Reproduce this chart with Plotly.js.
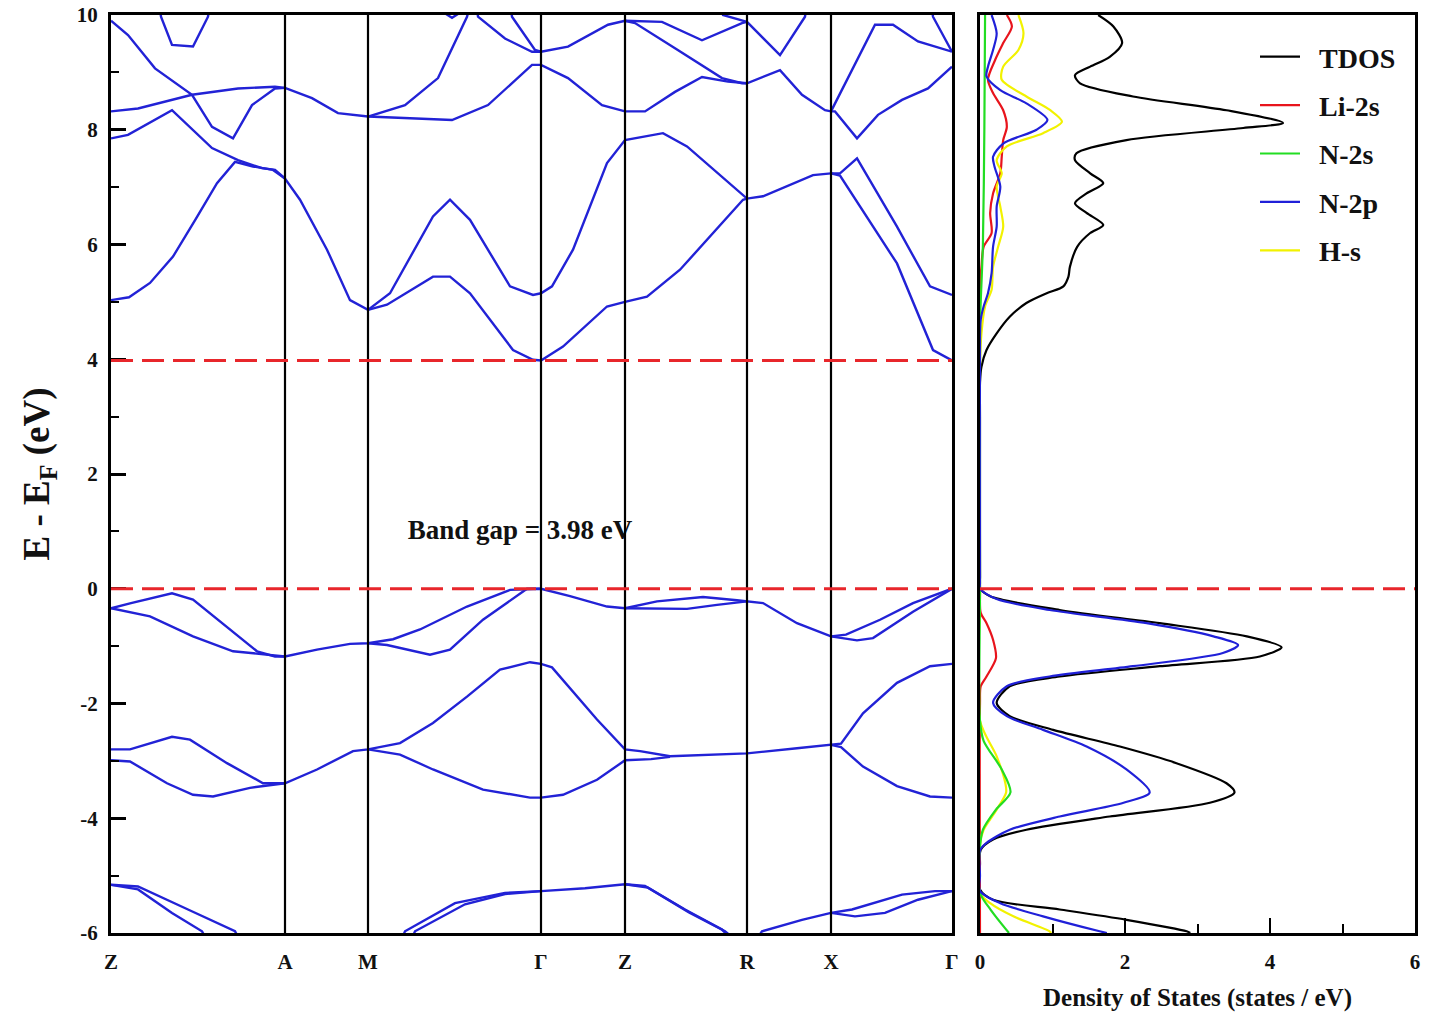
<!DOCTYPE html>
<html>
<head>
<meta charset="utf-8">
<script src="https://cdn.plot.ly/plotly-3.0.1.min.js"></script>
<style>html,body{margin:0;padding:0;background:#fff;}#plot{width:1439px;height:1023px;}</style>
</head>
<body>
<div id="plot"></div>
<script>
// ---------- high-symmetry path ----------
const kPos = [0, 174, 257, 430, 514, 636, 720, 841];
const kLabels = ['Z', 'A', 'M', 'Γ', 'Z', 'R', 'X', 'Γ'];
const eTicks = [-6, -4, -2, 0, 2, 4, 6, 8, 10];
const eTickText = ['-6', '-4', '-2', '0', '2', '4', '6', '8', '10'];
const dosTicks = [0, 2, 4, 6];
const bandGap = 3.98;

// ---------- bands: [k, E] pairs ----------
// valence top group
const vb1 = [[0,-0.34],[20,-0.25],[61,-0.08],[82,-0.19],[146,-1.09],[164,-1.18],[174,-1.18],[206,-1.06],[239,-0.96],[257,-0.95],[282,-0.88],[309,-0.71],[356,-0.31],[399,-0.02],[430,0],[459,-0.13],[496,-0.31],[514,-0.34],[546,-0.22],[592,-0.145],[626,-0.2],[636,-0.22],[652,-0.25],[686,-0.60],[720,-0.83],[746,-0.90],[762,-0.86],[802,-0.40],[841,0]];
const vb2 = [[0,-0.34],[39,-0.48],[82,-0.83],[122,-1.09],[174,-1.18]];
const vb3 = [[257,-0.95],[276,-0.98],[319,-1.15],[339,-1.06],[372,-0.54],[416,0],[430,0]];
const vb4 = [[514,-0.34],[552,-0.35],[576,-0.35],[606,-0.28],[636,-0.22]];
const vb5 = [[720,-0.83],[735,-0.80],[769,-0.54],[802,-0.25],[841,0]];
// valence middle group
const vb6 = [[0,-2.80],[19,-2.80],[61,-2.58],[79,-2.63],[116,-3.04],[152,-3.39],[174,-3.39],[206,-3.15],[242,-2.83],[257,-2.80],[289,-2.69],[322,-2.34],[356,-1.88],[389,-1.41],[419,-1.28],[430,-1.31],[441,-1.37],[452,-1.59],[486,-2.28],[514,-2.80],[529,-2.83],[559,-2.92],[600,-2.90],[636,-2.87],[686,-2.78],[720,-2.72],[730,-2.70],[752,-2.17],[786,-1.64],[819,-1.35],[841,-1.31]];
const vb7 = [[0,-2.99],[19,-3.01],[56,-3.39],[82,-3.59],[102,-3.62],[139,-3.47],[174,-3.39]];
const vb8 = [[257,-2.80],[289,-2.89],[322,-3.15],[372,-3.50],[419,-3.64],[430,-3.64],[452,-3.59],[486,-3.33],[514,-2.99],[540,-2.97],[559,-2.93]];
const vb9 = [[720,-2.72],[730,-2.76],[752,-3.10],[786,-3.44],[819,-3.62],[841,-3.64]];
// valence bottom group
const vb10 = [[0,-5.16],[27,-5.24],[61,-5.65],[91,-5.97],[95,-6.1]];
const vb11 = [[0,-5.16],[27,-5.19],[77,-5.59],[124,-5.97],[128,-6.1]];
const vb12 = [[291,-6.1],[294,-5.97],[344,-5.48],[394,-5.30],[430,-5.27],[474,-5.22],[514,-5.15],[534,-5.18],[574,-5.59],[611,-5.94],[620,-6.1]];
const vb13 = [[301,-6.1],[304,-5.97],[354,-5.50],[394,-5.32],[430,-5.27]];
const vb14 = [[514,-5.15],[537,-5.21],[578,-5.64],[614,-5.97],[623,-6.1]];
const vb15 = [[646,-6.1],[651,-5.97],[691,-5.77],[720,-5.65],[741,-5.59],[791,-5.33],[824,-5.27],[841,-5.27]];
const vb16 = [[720,-5.65],[744,-5.71],[774,-5.65],[807,-5.42],[841,-5.27]];
// conduction bands
const cb1 = [[0,5.03],[18,5.08],[39,5.33],[62,5.79],[85,6.45],[106,7.07],[124,7.44],[142,7.36],[162,7.30],[174,7.15],[189,6.78],[216,5.91],[239,5.03],[257,4.86],[279,5.15],[322,6.49],[339,6.78],[359,6.43],[399,5.27],[422,5.12],[430,5.15],[441,5.27],[462,5.91],[496,7.42],[514,7.82],[552,7.94],[576,7.71],[606,7.25],[636,6.80],[652,6.84],[702,7.21],[720,7.24],[729,7.24],[746,7.50],[786,6.31],[819,5.27],[841,5.12]];
const cb2 = [[0,7.85],[17,7.91],[61,8.34],[101,7.68],[127,7.47],[151,7.33],[164,7.30],[174,7.15]];
const cb3 = [[257,4.86],[276,4.95],[322,5.44],[339,5.44],[359,5.15],[402,4.16],[422,3.99],[430,3.98],[452,4.22],[496,4.92],[514,5.0],[536,5.09],[569,5.56],[602,6.20],[632,6.78],[636,6.80]];
const cb4 = [[720,7.24],[729,7.20],[786,5.67],[822,4.16],[841,3.98]];
const cb5 = [[0,8.32],[27,8.37],[81,8.61],[127,8.72],[164,8.75],[174,8.73],[201,8.55],[227,8.29],[257,8.23],[294,8.20],[341,8.17],[377,8.43],[421,9.13],[430,9.13],[457,8.90],[491,8.43],[514,8.32],[534,8.32],[564,8.66],[591,8.92],[617,8.84],[636,8.81],[669,9.04],[691,8.61],[714,8.34],[720,8.32],[724,8.32],[746,7.85],[767,8.26],[791,8.52],[817,8.72],[841,9.10]];
const cb6 = [[0,9.90],[17,9.65],[44,9.07],[81,8.61],[101,8.05],[122,7.85],[141,8.43],[164,8.72],[174,8.73]];
const cb7 = [[49,10.1],[50,9.97],[61,9.48],[82,9.45],[97,9.97],[98,10.1]];
const cb8 = [[257,8.23],[294,8.43],[327,8.90],[356,9.97],[358,10.1]];
const cb9 = [[366,10.1],[367,9.97],[394,9.59],[421,9.36],[430,9.36],[457,9.45],[497,9.83],[514,9.90],[551,9.88],[591,9.56],[631,9.86],[636,9.88],[669,9.30],[694,9.97],[695,10.1]];
const cb10 = [[400,10.1],[401,9.97],[424,9.39],[430,9.36]];
const cb11 = [[334,10.03],[341,9.95],[348,10.03]];
const cb12 = [[514,9.90],[524,9.86],[564,9.42],[611,8.90],[631,8.81],[636,8.81]];
const cb13 = [[610,10.1],[612,10.0],[636,9.88]];
const cb14 = [[720,8.32],[764,9.83],[782,9.83],[807,9.54],[841,9.36]];
const cb15 = [[821,10.1],[822,9.97],[841,9.36]];

const bands = [vb1,vb2,vb3,vb4,vb5,vb6,vb7,vb8,vb9,vb10,vb11,vb12,vb13,vb14,vb15,vb16,
               cb1,cb2,cb3,cb4,cb5,cb6,cb7,cb8,cb9,cb10,cb11,cb12,cb13,cb14,cb15];

// ---------- density of states ----------
const tdosE = [10,9.80,9.51,9.27,9.10,8.95,8.81,8.58,8.34,8.12,8.03,7.82,7.59,7.47,7.24,7.07,6.89,6.72,6.55,6.34,6.20,5.96,5.61,5.44,5.27,5.15,4.98,4.74,4.45,4.16,3.87,3.6,3.0,
               0.2,0.01,-0.13,-0.37,-0.60,-0.83,-1.02,-1.18,-1.35,-1.53,-1.70,-1.99,-2.22,-2.46,-2.75,-3.04,-3.39,-3.55,-3.73,-3.97,-4.20,-4.37,-4.55,-4.8,-5.24,-5.42,-5.59,-5.77,-5.97,-6.0];
const tdosV = [1.63,1.84,1.96,1.79,1.52,1.31,1.38,2.11,3.40,4.18,3.63,2.02,1.33,1.31,1.52,1.70,1.47,1.31,1.47,1.70,1.52,1.34,1.24,1.22,1.15,0.92,0.64,0.41,0.23,0.09,0.02,0,0,
               0,0,0.14,1.10,2.48,3.68,4.16,3.86,2.48,1.10,0.41,0.23,0.41,1.01,1.93,2.71,3.40,3.51,3.17,1.79,0.64,0.18,0.01,0,0,0.18,1.10,2.02,2.85,2.9];
const li2sE = [10,9.80,9.51,9.22,8.87,8.64,8.34,8.05,7.82,7.53,7.24,6.89,6.55,6.20,5.96,5.61,5.3,
               0,-0.42,-0.60,-0.89,-1.21,-1.53,-1.70,-2.0,-6.0];
const li2sV = [0.37,0.44,0.32,0.21,0.11,0.18,0.32,0.37,0.32,0.30,0.28,0.18,0.14,0.16,0.05,0.02,0,
               0,0.01,0.09,0.18,0.22,0.09,0.01,0,0];
const n2sE = [10,8,6,5,4.6,0,-2.3,-2.65,-3.15,-3.55,-3.85,-4.2,-4.5,-5.3,-5.6,-6.0];
const n2sV = [0.07,0.06,0.04,0.01,0,0,0,0.05,0.30,0.42,0.22,0.04,0,0,0.15,0.4];
const n2pE = [10,9.68,9.39,9.10,8.93,8.69,8.46,8.17,8.0,7.76,7.53,7.36,7.01,6.66,6.31,5.96,5.50,5.15,4.92,4.69,4.4,
              0.1,0.0,-0.18,-0.37,-0.60,-0.83,-0.98,-1.12,-1.35,-1.53,-1.70,-1.99,-2.22,-2.46,-2.75,-3.15,-3.55,-3.73,-3.97,-4.20,-4.43,-4.56,-5.0,-5.27,-5.48,-5.71,-5.97,-6.0];
const n2pV = [0.16,0.23,0.18,0.11,0.09,0.28,0.64,0.93,0.78,0.32,0.18,0.20,0.28,0.23,0.23,0.18,0.16,0.11,0.05,0.01,0,
              0,0,0.23,0.96,2.30,3.22,3.56,3.35,2.11,0.96,0.37,0.18,0.37,0.87,1.47,2.02,2.34,1.98,1.10,0.41,0.09,0,0,0,0.28,0.87,1.65,1.75];
const hsE = [10,9.68,9.39,9.10,8.87,8.58,8.34,8.14,7.94,7.71,7.47,7.24,7.01,6.66,6.31,5.96,5.61,5.21,4.92,4.45,3.9,
             0,-2.3,-2.92,-3.39,-3.55,-3.85,-4.20,-4.45,-5.3,-5.48,-5.71,-5.97,-6.0];
const hsV = [0.53,0.60,0.53,0.32,0.30,0.64,0.97,1.13,0.87,0.37,0.23,0.30,0.23,0.28,0.32,0.25,0.18,0.16,0.07,0.02,0,
             0,0,0.23,0.35,0.36,0.23,0.05,0,0,0.14,0.46,0.96,0.98];

const dosSeries = [
  {name:'TDOS',  E:tdosE, V:tdosV, color:'#000000'},
  {name:'Li-2s', E:li2sE, V:li2sV, color:'#e8141c'},
  {name:'N-2s',  E:n2sE,  V:n2sV,  color:'#22dd22'},
  {name:'N-2p',  E:n2pE,  V:n2pV,  color:'#2020d8'},
  {name:'H-s',   E:hsE,   V:hsV,   color:'#f2f200'}
];

// ---------- build traces ----------
const FONT = 'Liberation Serif, Times New Roman, serif';
const traces = [];
traces.push({
  x:[409], y:[0.98], mode:'text', text:['Band gap = ' + bandGap.toFixed(2) + ' eV'],
  textfont:{family:FONT, size:27, color:'#111', weight:'bold'},
  xaxis:'x', yaxis:'y', showlegend:false, hoverinfo:'skip', cliponaxis:false
});
bands.forEach(b => {
  traces.push({
    x:b.map(p=>p[0]), y:b.map(p=>p[1]), mode:'lines', xaxis:'x', yaxis:'y',
    line:{color:'#2222d6', width:2.4}, showlegend:false, hoverinfo:'skip'
  });
});
const drawOrder = ['TDOS','Li-2s','H-s','N-2s','N-2p'];
const legendRank = {'TDOS':1,'Li-2s':2,'N-2s':3,'N-2p':4,'H-s':5};
drawOrder.forEach(nm => {
  const s = dosSeries.find(d=>d.name===nm);
  traces.push({
    x:s.V, y:s.E, mode:'lines', name:'\u2002' + s.name, xaxis:'x2', yaxis:'y2',
    line:{color:s.color, width:2.2, shape:'spline', smoothing:0.8},
    legendgroup:s.name, legendrank:legendRank[nm], hoverinfo:'skip'
  });
});

// ---------- shapes ----------
const shapes = [];
kPos.slice(1, -1).forEach(k => {
  shapes.push({type:'line', xref:'x', yref:'y', x0:k, x1:k, y0:-6, y1:10,
               line:{color:'#000', width:2.2}, layer:'above'});
});
[0, bandGap].forEach(e => {
  shapes.push({type:'line', xref:'x', yref:'y', x0:kPos[0], x1:kPos[kPos.length-1], y0:e, y1:e,
               line:{color:'#e8262b', width:3, dash:'22px,9px'}, layer:'above'});
});
shapes.push({type:'line', xref:'x2', yref:'y2', x0:0, x1:6, y0:0, y1:0,
             line:{color:'#e8262b', width:3, dash:'22px,9px'}, layer:'above'});

const W = 1439, H = 1023;
const yDom = [1 - 933/H, 1 - 15/H];
const tickFont = {family:FONT, size:21, color:'#111', weight:'bold'};

const layout = {
  width:W, height:H, margin:{l:0, r:0, t:0, b:0},
  paper_bgcolor:'#fff', plot_bgcolor:'#fff',
  showlegend:true,
  legend:{x:1255/W, y:1 - 32/H, xanchor:'left', yanchor:'top', bgcolor:'rgba(0,0,0,0)',
          font:{family:FONT, size:28, color:'#111', weight:'bold'},
          traceorder:'grouped', tracegroupgap:9, itemwidth:40},
  xaxis:{domain:[111/W, 952/W], range:[kPos[0], kPos[kPos.length-1]], tickmode:'array',
         tickvals:kPos, ticktext:kLabels, ticks:'', showgrid:false, zeroline:false,
         showline:true, mirror:true, linecolor:'#000', linewidth:3, tickfont:tickFont,
         ticklabelstandoff:8, anchor:'y'},
  yaxis:{domain:yDom, range:[-6, 10], tickmode:'array', tickvals:eTicks, ticktext:eTickText,
         ticks:'inside', ticklen:15, tickwidth:3, tickcolor:'#000',
         minor:{ticks:'inside', dtick:1, ticklen:8, tickwidth:2, tickcolor:'#000'},
         showgrid:false, zeroline:false, showline:true, mirror:true, linecolor:'#000', linewidth:3,
         tickfont:tickFont, ticklabelstandoff:6,
         title:{text:'E - E<sub>F</sub> (eV)', font:{family:FONT, size:37, color:'#111', weight:'bold'}, standoff:16},
         anchor:'x'},
  xaxis2:{domain:[980/W, 1415/W], range:[0, 6], tickmode:'array', tickvals:dosTicks,
          ticks:'inside', ticklen:15, tickwidth:2.5, tickcolor:'#000',
          minor:{ticks:'inside', dtick:1, ticklen:9, tickwidth:2, tickcolor:'#000'},
          showgrid:false, zeroline:false, showline:true, mirror:true, linecolor:'#000', linewidth:3,
          tickfont:tickFont, ticklabelstandoff:8,
          title:{text:'Density of States (states / eV)', font:{family:FONT, size:25, color:'#111', weight:'bold'}, standoff:16},
          anchor:'y2'},
  yaxis2:{domain:yDom, range:[-6, 10], showticklabels:false, ticks:'', showgrid:false, zeroline:false,
          showline:true, mirror:true, linecolor:'#000', linewidth:3, anchor:'x2'},
  shapes:shapes
};

Plotly.newPlot('plot', traces, layout, {displayModeBar:false, staticPlot:true});
</script>
</body>
</html>
